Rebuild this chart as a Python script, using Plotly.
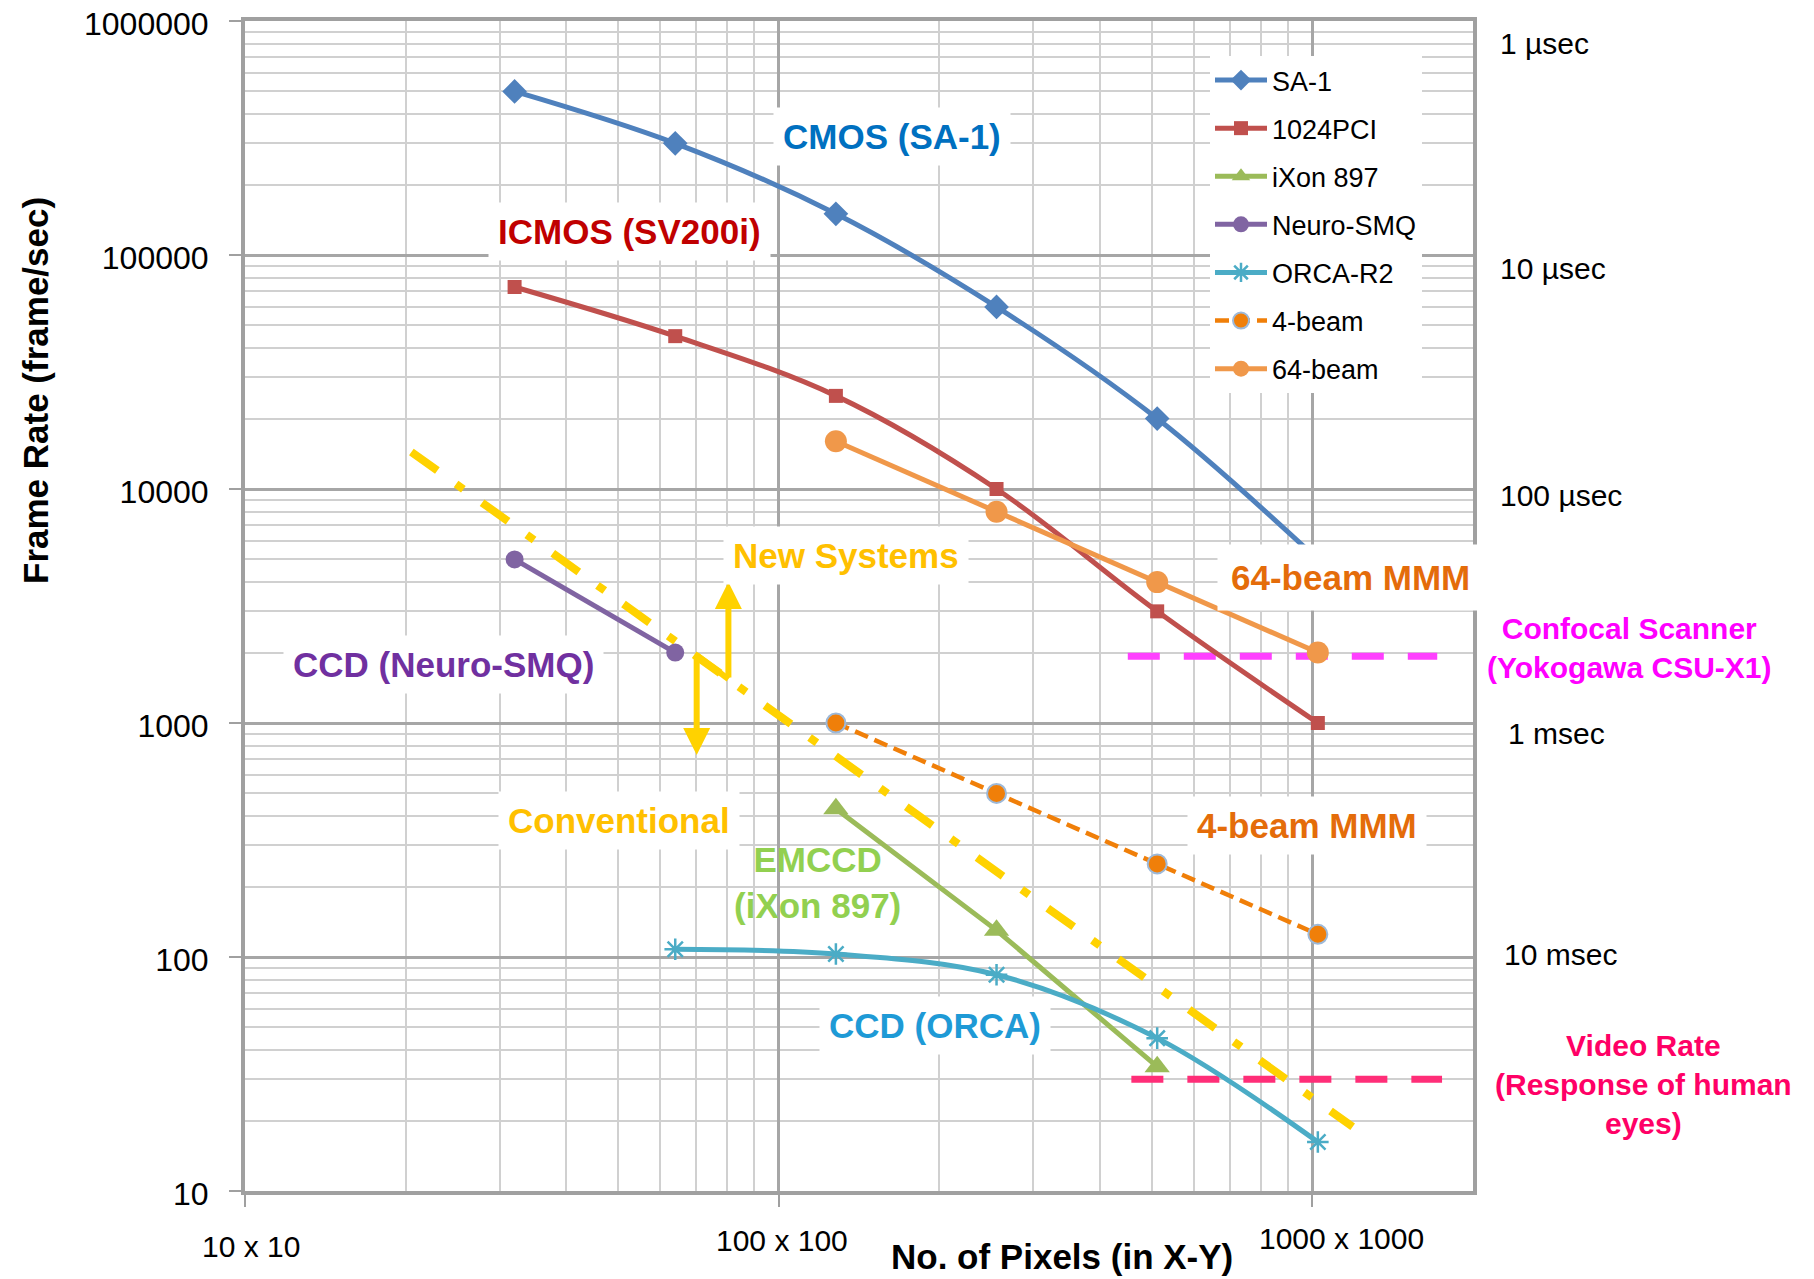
import numpy as np
import plotly.graph_objects as go

# ---------------- data ----------------
pix_all = [32, 64, 128, 256, 512, 1024]
sa1 = [500000, 300000, 150000, 60000, 20000, 5000]
pci1024 = [73000, 45000, 25000, 10000, 3000, 1000]

ixon_x = [128, 256, 512]
ixon_y = [430, 130, 34]

neuro_x = [32, 64]
neuro_y = [5000, 2000]

orca_x = [64, 128, 256, 512, 1024]
orca_y = [108, 103, 84, 45, 16.2]

beam4_x = [128, 256, 512, 1024]
beam4_y = [1000, 500, 250, 125]

beam64_x = [128, 256, 512, 1024]
beam64_y = [16000, 8000, 4000, 2000]

# reference lines
conv_x = [20.5, 1190]
conv_y = [14400, 18.8]
confocal_x = [451, 1714]
confocal_y = [1930, 1930]
video_x = [458, 1750]
video_y = [30, 30]

# arrow between "New Systems" and "Conventional"
arrow_down = dict(tail=(70.2, 1950), tip=(70.2, 730))
arrow_up = dict(tail=(80.5, 1540), tip=(80.5, 4000))
arrow_link_x = [70.2, 80.5]
arrow_link_y = [1950, 1540]

y_ticks = [10, 100, 1000, 10000, 100000, 1000000]
y_ticktext = ["10", "100", "1000", "10000", "100000", "1000000"]
x_ticks = [10, 100, 1000]
x_ticktext = ["10 x 10", "100 x 100", "1000 x 1000"]
time_vals = [1000000, 100000, 10000, 1000, 100]
time_text = ["1 \u00b5sec", "10 \u00b5sec", "100 \u00b5sec", "1 msec", "10 msec"]

# ---------------- style ----------------
REG = "Liberation Sans, Arial, sans-serif"

BODY = 8                      # default page margin of the html body
PAGE_W, PAGE_H = 1814, 1279
W, H = PAGE_W - BODY, PAGE_H - BODY
L, R, T, B = 245, 1473, 21, 1191  # plot area in page px


def px2paper(px, py):
    return (px - L) / (R - L), (B - py) / (B - T)


fig = go.Figure()


def add_series(name, x, y, color, symbol, msize, shape="linear", dash="solid",
               mline=None, width=5):
    marker = dict(symbol=symbol, size=msize, color=color)
    if mline:
        marker["line"] = mline
    fig.add_trace(go.Scatter(
        x=x, y=y, name=name, mode="lines+markers",
        line=dict(color=color, width=width, shape=shape, dash=dash, smoothing=1.0),
        marker=marker, legendgroup=name))


# guide lines first (drawn below the series)
fig.add_trace(go.Scatter(x=conv_x, y=conv_y, mode="lines", showlegend=False,
                         line=dict(color="#FFD200", width=8, dash="32px,23px,9px,23px"),
                         hoverinfo="skip"))
fig.add_trace(go.Scatter(x=confocal_x, y=confocal_y, mode="lines", showlegend=False,
                         line=dict(color="#FF40FF", width=7, dash="32px,24px"),
                         hoverinfo="skip"))
fig.add_trace(go.Scatter(x=video_x, y=video_y, mode="lines", showlegend=False,
                         line=dict(color="#FF2E78", width=7, dash="32px,24px"),
                         hoverinfo="skip"))
fig.add_trace(go.Scatter(x=arrow_link_x, y=arrow_link_y, mode="lines", showlegend=False,
                         line=dict(color="#FFD200", width=6), hoverinfo="skip"))

add_series("SA-1", pix_all, sa1, "#4F81BD", "diamond", 19, shape="spline")
add_series("1024PCI", pix_all, pci1024, "#C0504D", "square", 14, shape="spline")
add_series("iXon 897", ixon_x, ixon_y, "#9BBB59", "triangle-up", 22)
add_series("Neuro-SMQ", neuro_x, neuro_y, "#8064A2", "circle", 18)
add_series("ORCA-R2", orca_x, orca_y, "#4BACC6", "asterisk-open", 18, shape="spline",
           mline=dict(color="#4BACC6", width=2.5))
add_series("4-beam", beam4_x, beam4_y, "#F07F09", "circle", 19, dash="14px,7px",
           mline=dict(color="#9DB9D9", width=2), width=4.5)
add_series("64-beam", beam64_x, beam64_y, "#F0984A", "circle", 22)

annotations = []

# arrows
for a in (arrow_down, arrow_up):
    annotations.append(dict(
        x=np.log10(a["tip"][0]), y=np.log10(a["tip"][1]), xref="x", yref="y",
        ax=np.log10(a["tail"][0]), ay=np.log10(a["tail"][1]), axref="x", ayref="y",
        text="", showarrow=True, arrowhead=2, arrowsize=0.9, arrowwidth=6,
        arrowcolor="#FFD200", standoff=0, startstandoff=0))


def label(text, px, py, color, size=35, bg="white", bold=True, align="center", pad=9):
    xp, yp = px2paper(px, py)
    t = f"<b>{text}</b>" if bold else text
    annotations.append(dict(
        x=xp, y=yp, xref="paper", yref="paper", text=t, showarrow=False,
        xanchor="center", yanchor="middle", align=align,
        font=dict(family=REG, size=size, color=color),
        bgcolor=bg, borderpad=pad))


label("CMOS (SA-1)", 892, 137, "#0070C0")
label("ICMOS (SV200i)", 629, 231, "#C00000")
label("New Systems", 846, 555, "#FFC000")
label("64-beam MMM", 1350, 577, "#E46C0A", pad=13)
label("CCD (Neuro-SMQ)", 443, 664, "#7030A0")
label("Conventional", 619, 820, "#FFC000")
label("4-beam MMM", 1307, 825, "#E46C0A")
label("EMCCD<br>(iXon 897)", 817, 882, "#92D050", bg="rgba(0,0,0,0)")
label("CCD (ORCA)", 935, 1025, "#1E9AD6")
label("Confocal Scanner<br>(Yokogawa CSU-X1)", 1629, 648, "#FF00FF", size=30)
label("Video Rate<br>(Response of human<br>eyes)", 1643, 1084, "#FF0066", size=30)

# right-side exposure time labels
time_offsets = [22, 13, 6, 10, -3]
time_xpx = [1498, 1498, 1498, 1506, 1502]
for v, t, off, xpx in zip(time_vals, time_text, time_offsets, time_xpx):
    annotations.append(dict(
        x=(xpx - L) / (R - L), y=np.log10(v), xref="paper", yref="y", text=t,
        showarrow=False, xanchor="left", yanchor="middle", yshift=-off,
        font=dict(family=REG, size=30, color="black")))

# x tick labels (manually offset as in the original)
x_label_shift = [6, 3, 29]
x_label_ypx = [1246, 1240, 1238]
for v, t, sh, ypx in zip(x_ticks, x_ticktext, x_label_shift, x_label_ypx):
    annotations.append(dict(
        x=np.log10(v), y=(B - ypx) / (B - T), xref="x", yref="paper", text=t,
        showarrow=False, xanchor="center", yanchor="middle", xshift=sh,
        font=dict(family=REG, size=30, color="black")))

# axis titles
xp, yp = px2paper(1062, 1256)
annotations.append(dict(x=xp, y=yp, xref="paper", yref="paper",
                        text="<b>No. of Pixels (in X-Y)</b>", showarrow=False,
                        xanchor="center", yanchor="middle",
                        font=dict(family=REG, size=35, color="black")))
xp, yp = px2paper(35, 391)
annotations.append(dict(x=xp, y=yp, xref="paper", yref="paper",
                        text="<b>Frame Rate (frame/sec)</b>", showarrow=False,
                        textangle=-90, xanchor="center", yanchor="middle",
                        font=dict(family=REG, size=35, color="black")))

x_minor = [m * d for d in (10, 100, 1000) for m in range(2, 10) if m * d < 2000]
y_minor = [m * d for d in (10, 100, 1000, 10000, 100000) for m in range(2, 10)]

axis_common = dict(
    type="log", showgrid=True, gridcolor="#A6A6A6", gridwidth=3,
    showline=True, linecolor="#A0A0A0", linewidth=4, mirror=True,
    ticks="outside", ticklen=12, tickwidth=2, tickcolor="#A0A0A0",
    zeroline=False, automargin=False,
)

fig.update_layout(
    width=W, height=H, autosize=False,
    margin=dict(l=L - BODY, r=PAGE_W - R, t=T - BODY, b=PAGE_H - B, pad=0),
    paper_bgcolor="white", plot_bgcolor="white",
    xaxis=dict(**axis_common, range=[1, np.log10(2000)], tickvals=x_ticks,
               showticklabels=False,
               minor=dict(tickvals=x_minor, showgrid=True, gridcolor="#D0D0D0",
                          gridwidth=2, ticks="")),
    yaxis=dict(**axis_common, range=[1, 6], tickvals=y_ticks, ticktext=y_ticktext,
               tickfont=dict(family=REG, size=32, color="black"),
               ticklabelstandoff=14, ticklabeloverflow="allow", ticklabelshift=3,
               minor=dict(tickvals=y_minor, showgrid=True, gridcolor="#D0D0D0",
                          gridwidth=2, ticks="")),
    legend=dict(x=(1210 - L) / (R - L), y=(B - 56) / (B - T), xanchor="left",
                yanchor="top", bgcolor="white", borderwidth=0,
                font=dict(family=REG, size=27, color="black"),
                itemwidth=52, tracegroupgap=10, traceorder="grouped"),
    annotations=annotations,
    showlegend=True,
)

fig.write_html("out.html")
